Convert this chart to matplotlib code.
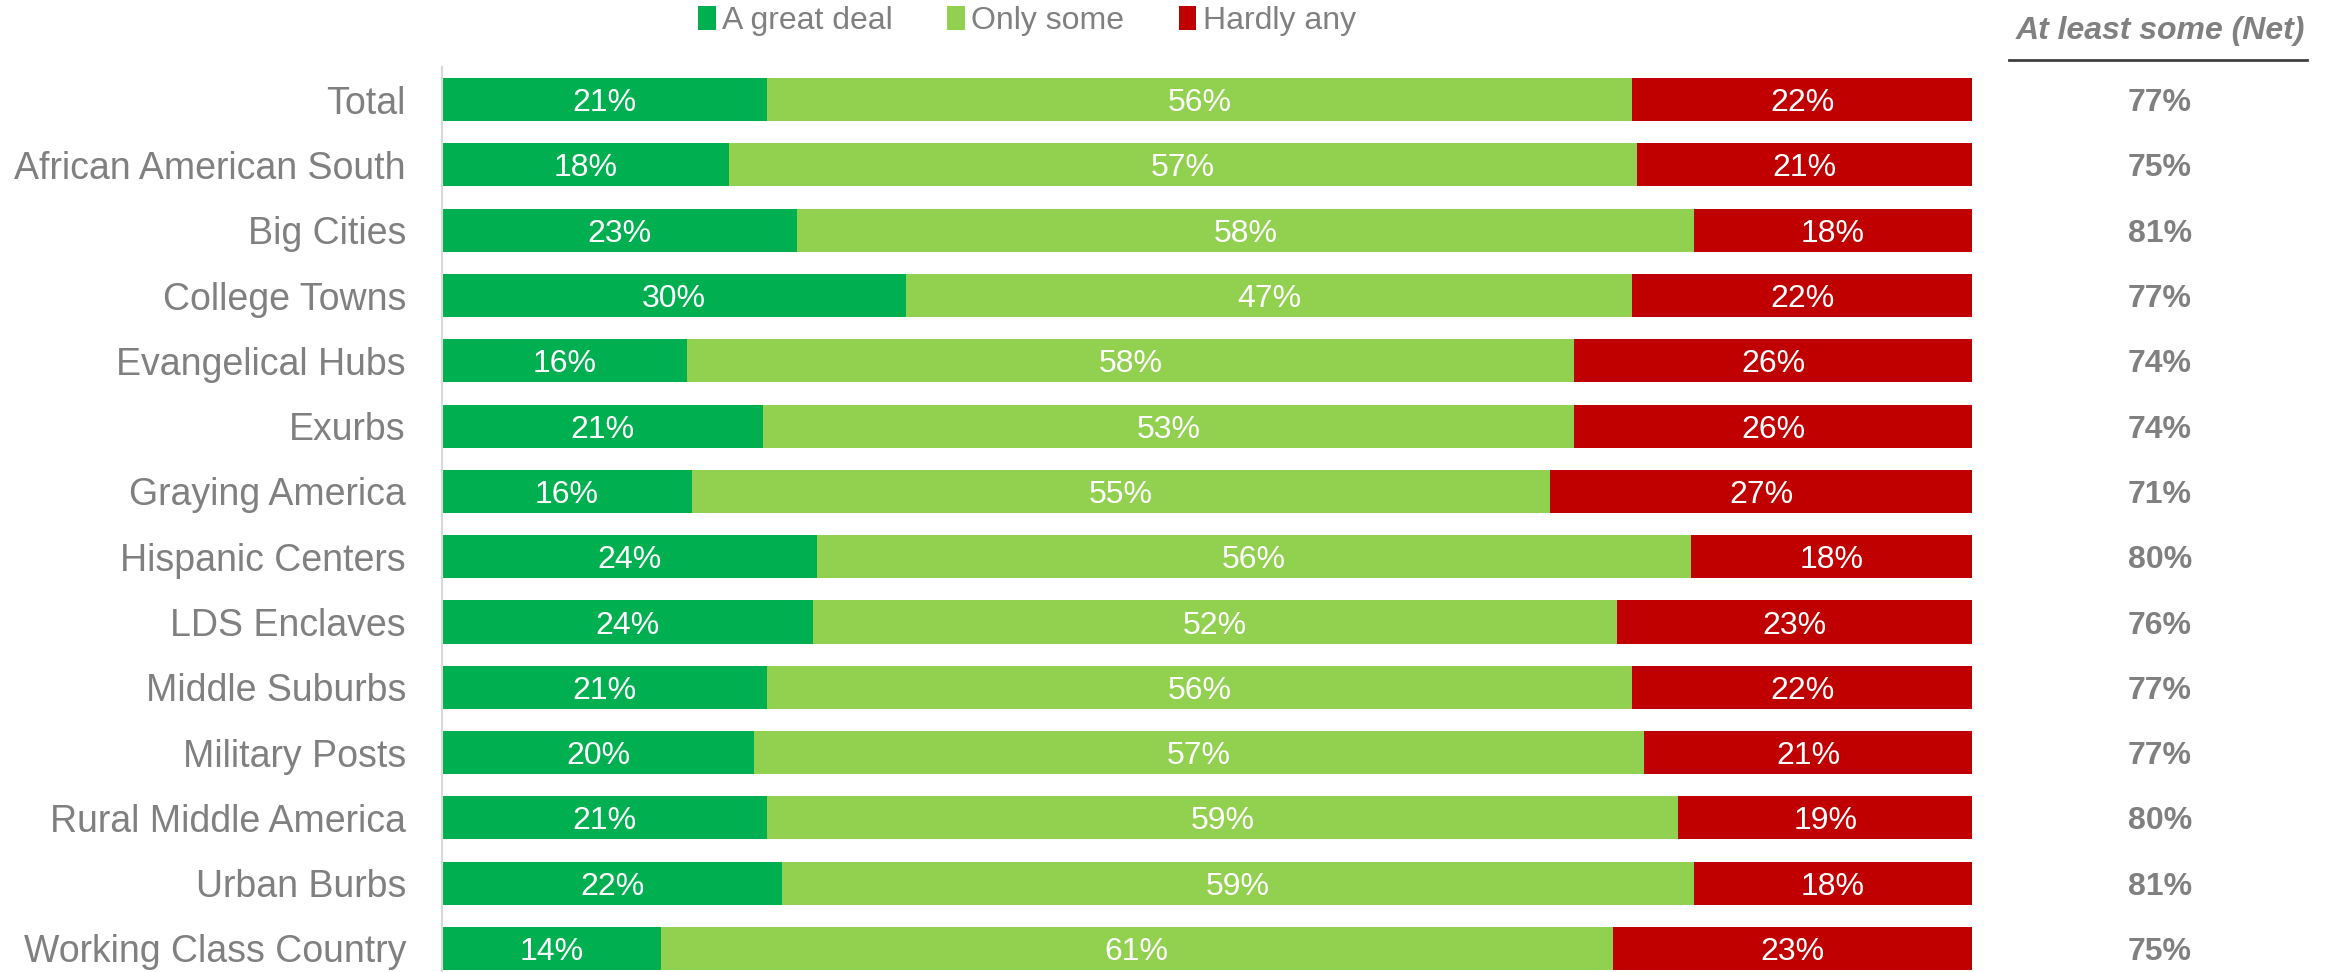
import matplotlib.pyplot as plt
from matplotlib.patches import Patch
from matplotlib.lines import Line2D

plt.rcParams['font.family'] = ['Liberation Sans', 'DejaVu Sans']

# data
categories = ['Total', 'African American South', 'Big Cities', 'College Towns',
              'Evangelical Hubs', 'Exurbs', 'Graying America', 'Hispanic Centers',
              'LDS Enclaves', 'Middle Suburbs', 'Military Posts',
              'Rural Middle America', 'Urban Burbs', 'Working Class Country']
great_deal = [21, 18, 23, 30, 16, 21, 16, 24, 24, 21, 20, 21, 22, 14]
only_some = [56, 57, 58, 47, 58, 53, 55, 56, 52, 56, 57, 59, 59, 61]
hardly_any = [22, 21, 18, 22, 26, 26, 27, 18, 23, 22, 21, 19, 18, 23]
net_some = [77, 75, 81, 77, 74, 74, 71, 80, 76, 77, 77, 80, 81, 75]

series_names = ['A great deal', 'Only some', 'Hardly any']
colors = ['#00B050', '#92D050', '#C00000']
gray = '#808080'

W, H = 2336, 972
x0, x1 = 442, 1972  # pixel edges of the 0-100% range
fig = plt.figure(figsize=(W / 100, H / 100), dpi=100)
ax = fig.add_axes([x0 / W, 0, (x1 - x0) / W, (972 - 67) / H])

rows = list(range(len(categories)))
left = [0] * len(categories)
for vals, col in zip([great_deal, only_some, hardly_any], colors):
    shares = []
    for i, v in enumerate(vals):
        tot = great_deal[i] + only_some[i] + hardly_any[i]
        shares.append(v / tot * 100)
    ax.barh(rows, shares, left=left, height=0.66, color=col, edgecolor='none')
    for i, (s, v) in enumerate(zip(shares, vals)):
        ax.text(left[i] + s / 2, i, f'{v}%', ha='center', va='center_baseline',
                color='white', fontsize=23)
    left = [l + s for l, s in zip(left, shares)]

ax.set_xlim(0, 100)
ax.set_ylim(13.36, -0.5)
ax.set_yticks(rows)
ax.set_yticklabels(categories, fontsize=27, color=gray, va='center_baseline')
ax.tick_params(axis='y', length=0, pad=26)
ax.set_xticks([])
for side in ['top', 'right', 'bottom']:
    ax.spines[side].set_visible(False)
ax.spines['left'].set_color('#D9D9D9')
ax.spines['left'].set_linewidth(1.5)


def px_to_x(px):
    return (px - x0) / (x1 - x0) * 100


# net column
net_x = px_to_x(2160)
for i, v in enumerate(net_some):
    ax.text(net_x, i, f'{v}%', ha='center', va='center_baseline', color=gray,
            fontsize=23, fontweight='bold', clip_on=False)
ax.text(net_x, -1.1, 'At least some (Net)', ha='center', va='center_baseline',
        color=gray, fontsize=23, fontweight='bold', style='italic', clip_on=False)
ax.add_line(Line2D([px_to_x(2009), px_to_x(2307)], [-0.6, -0.6], color='#404040',
                   lw=2, clip_on=False))

handles = [Patch(facecolor=c, edgecolor='none') for c in colors]
fig.legend(handles, series_names, loc='center', bbox_to_anchor=(1027 / W, 1 - 21 / H),
           ncol=3, frameon=False, fontsize=23, labelcolor=gray,
           handlelength=0.55, handleheight=0.75, handletextpad=0.2,
           columnspacing=1.7)

fig.savefig('out.png', dpi=100)
